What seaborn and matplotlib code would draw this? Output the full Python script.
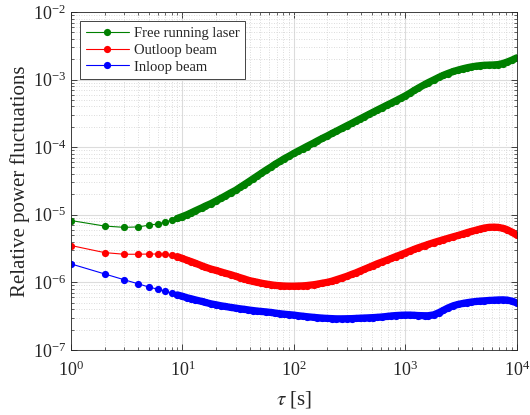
import matplotlib
matplotlib.use("Agg")
import matplotlib.pyplot as plt
import matplotlib.ticker as mticker
import pandas as pd
import seaborn as sns

tau = [1, 2, 3, 4, 5, 6, 7, 8, 9,
       10, 11, 12, 13, 15, 16, 18, 20, 22, 24, 27, 30, 33, 36, 39, 43, 47, 51, 56, 62, 68, 75, 82, 91,
       100, 110, 120, 130, 150, 160, 180, 200, 220, 240, 270, 300, 330, 360, 390, 430, 470, 510, 560,
       620, 680, 750, 820, 910,
       1000, 1100, 1200, 1300, 1500, 1600, 1800, 2000, 2200, 2400, 2700, 3000, 3300, 3600, 3900, 4300,
       4700, 5100, 5600, 6200, 6800, 7500, 8200, 9100, 10000]

free_running = [8.2e-6, 6.8e-6, 6.5e-6, 6.6e-6, 7.0e-6, 7.3e-6, 7.8e-6, 8.3e-6, 8.8e-6,
                9.4e-6, 1.0e-5, 1.07e-5, 1.14e-5, 1.27e-5, 1.34e-5, 1.46e-5, 1.6e-5, 1.74e-5, 1.88e-5,
                2.1e-5, 2.3e-5, 2.55e-5, 2.8e-5, 3.05e-5, 3.4e-5, 3.75e-5, 4.1e-5, 4.55e-5, 5.05e-5,
                5.6e-5, 6.15e-5, 6.75e-5, 7.4e-5,
                8.1e-5, 8.8e-5, 9.5e-5, 1.02e-4, 1.15e-4, 1.22e-4, 1.35e-4, 1.47e-4, 1.6e-4, 1.72e-4,
                1.9e-4, 2.08e-4, 2.25e-4, 2.43e-4, 2.6e-4, 2.83e-4, 3.05e-4, 3.27e-4, 3.54e-4,
                3.85e-4, 4.16e-4, 4.5e-4, 4.85e-4, 5.3e-4,
                5.75e-4, 6.3e-4, 6.9e-4, 7.45e-4, 8.5e-4, 9.0e-4, 9.9e-4, 1.08e-3, 1.16e-3, 1.23e-3,
                1.32e-3, 1.39e-3, 1.45e-3, 1.5e-3, 1.54e-3, 1.58e-3, 1.61e-3, 1.63e-3, 1.64e-3,
                1.65e-3, 1.67e-3, 1.73e-3, 1.82e-3, 1.95e-3, 2.1e-3]

outloop = [3.5e-6, 2.75e-6, 2.6e-6, 2.6e-6, 2.62e-6, 2.62e-6, 2.6e-6, 2.5e-6, 2.4e-6,
           2.25e-6, 2.12e-6, 2.02e-6, 1.92e-6, 1.75e-6, 1.68e-6, 1.57e-6, 1.5e-6, 1.43e-6, 1.37e-6,
           1.3e-6, 1.23e-6, 1.17e-6, 1.12e-6, 1.07e-6, 1.03e-6, 1.0e-6, 9.7e-7, 9.45e-7, 9.2e-7,
           9.0e-7, 8.9e-7, 8.8e-7, 8.75e-7,
           8.75e-7, 8.8e-7, 8.85e-7, 8.95e-7, 9.2e-7, 9.35e-7, 9.7e-7, 1.0e-6, 1.04e-6, 1.09e-6,
           1.16e-6, 1.23e-6, 1.31e-6, 1.38e-6, 1.46e-6, 1.56e-6, 1.66e-6, 1.76e-6, 1.88e-6,
           2.0e-6, 2.12e-6, 2.26e-6, 2.4e-6, 2.56e-6,
           2.72e-6, 2.9e-6, 3.07e-6, 3.23e-6, 3.5e-6, 3.63e-6, 3.87e-6, 4.08e-6, 4.28e-6, 4.46e-6,
           4.72e-6, 4.95e-6, 5.2e-6, 5.45e-6, 5.65e-6, 5.9e-6, 6.15e-6, 6.35e-6, 6.5e-6,
           6.55e-6, 6.5e-6, 6.3e-6, 6.0e-6, 5.5e-6, 5.0e-6]

inloop = [1.87e-6, 1.33e-6, 1.09e-6, 9.5e-7, 8.5e-7, 7.9e-7, 7.4e-7, 6.9e-7, 6.5e-7,
          6.2e-7, 5.9e-7, 5.7e-7, 5.5e-7, 5.2e-7, 5.05e-7, 4.8e-7, 4.65e-7, 4.5e-7, 4.4e-7,
          4.25e-7, 4.15e-7, 4.05e-7, 3.98e-7, 3.9e-7, 3.82e-7, 3.75e-7, 3.7e-7, 3.65e-7, 3.58e-7,
          3.5e-7, 3.43e-7, 3.37e-7, 3.32e-7,
          3.27e-7, 3.2e-7, 3.15e-7, 3.1e-7, 3.03e-7, 3.0e-7, 2.95e-7, 2.92e-7, 2.9e-7, 2.88e-7,
          2.88e-7, 2.89e-7, 2.9e-7, 2.92e-7, 2.94e-7, 2.96e-7, 2.98e-7, 3.0e-7, 3.03e-7,
          3.07e-7, 3.12e-7, 3.18e-7, 3.22e-7, 3.25e-7,
          3.27e-7, 3.27e-7, 3.25e-7, 3.22e-7, 3.2e-7, 3.2e-7, 3.3e-7, 3.55e-7, 3.85e-7, 4.15e-7,
          4.5e-7, 4.72e-7, 4.87e-7, 5.0e-7, 5.1e-7, 5.2e-7, 5.27e-7, 5.32e-7, 5.38e-7,
          5.43e-7, 5.48e-7, 5.5e-7, 5.45e-7, 5.25e-7, 4.95e-7]

series = ["Free running laser", "Outloop beam", "Inloop beam"]
colors = ["#008000", "#ff0000", "#0000ff"]

df = pd.DataFrame({
    "tau": tau * 3,
    "value": free_running + outloop + inloop,
    "series": [series[0]] * len(tau) + [series[1]] * len(tau) + [series[2]] * len(tau),
})

sns.set_style("ticks")
plt.rcParams["font.family"] = ["Liberation Serif", "DejaVu Serif"]
plt.rcParams["mathtext.fontset"] = "stix"

fig = plt.figure(figsize=(5.3, 4.15), dpi=100)
ax = fig.add_axes([0.134, 0.157, 0.841, 0.814])

for name, col in zip(series, colors):
    sub = df[df["series"] == name]
    # the densely sampled part merges into a thick band
    dense = sub[sub["tau"] >= 9]
    sns.lineplot(data=dense, x="tau", y="value", color=col, linewidth=5.2,
                 solid_capstyle="round", solid_joinstyle="round", ax=ax)
    sns.lineplot(data=sub, x="tau", y="value", color=col, marker="o", markersize=5.2,
                 markeredgewidth=0, linewidth=0.8, label=name, ax=ax)

ax.set_xscale("log")
ax.set_yscale("log")
ax.set_xlim(1, 1e4)
ax.set_ylim(1e-7, 1e-2)

ax.grid(True, which="major", color="#dcdcdc", linewidth=0.8, linestyle="-")
ax.grid(True, which="minor", color="#d0d0d0", linewidth=0.6, linestyle=(0, (1, 2)))
ax.set_axisbelow(True)

ax.xaxis.set_major_locator(mticker.LogLocator(base=10, numticks=10))
ax.yaxis.set_major_locator(mticker.LogLocator(base=10, numticks=10))
ax.xaxis.set_minor_locator(mticker.LogLocator(base=10, subs=range(2, 10), numticks=20))
ax.yaxis.set_minor_locator(mticker.LogLocator(base=10, subs=range(2, 10), numticks=20))
ax.xaxis.set_minor_formatter(mticker.NullFormatter())
ax.yaxis.set_minor_formatter(mticker.NullFormatter())

ax.tick_params(which="both", direction="in", top=True, right=True, colors="#262626",
               labelcolor="#262626", labelsize=13)
ax.tick_params(axis="x", which="major", pad=8)
ax.tick_params(which="major", length=4, width=0.6)
ax.tick_params(which="minor", length=2, width=0.5)
for s in ax.spines.values():
    s.set_color("#262626")
    s.set_linewidth(0.6)

ax.set_xlabel(r"$\tau$ [s]", fontsize=15, color="#262626", labelpad=6)
ax.set_ylabel("Relative power fluctuations", fontsize=15, color="#262626", labelpad=2)

leg = ax.legend(loc="upper left", fontsize=10.5, frameon=True, fancybox=False,
                edgecolor="#262626", framealpha=1, borderaxespad=0.6,
                handlelength=3.0, borderpad=0.4, labelspacing=0.25, handletextpad=0.3)
leg.get_frame().set_linewidth(0.6)

fig.savefig("out.png", dpi=100)
